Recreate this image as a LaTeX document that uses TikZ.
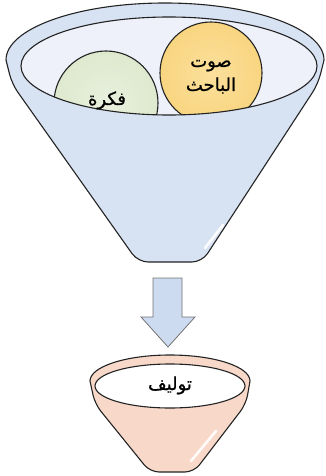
\documentclass[tikz,border=0pt]{standalone}
\usepackage{fontspec}
\newfontfamily\arabicfont[Script=Arabic, FakeBold=0.8]{DejaVu Sans}
\TeXXeTstate=1
\definecolor{outline}{RGB}{35,35,35}
\definecolor{blueBody}{RGB}{215,226,242}
\definecolor{blueInner}{RGB}{238,241,250}
\definecolor{greenBall}{RGB}{222,233,206}
\definecolor{greenLight}{RGB}{232,240,222}
\definecolor{yellowBall}{RGB}{248,213,128}
\definecolor{yellowLight}{RGB}{251,224,156}
\definecolor{peachBody}{RGB}{247,216,201}
\definecolor{arrowBlue}{RGB}{204,219,240}
\definecolor{arrowEdge}{RGB}{115,115,115}
\tikzset{
  funnelline/.style={draw=outline, line width=1.1pt},
  ballshape/.style={draw=outline, line width=1.1pt},
  label/.style={font=\arabicfont\fontsize{18}{22}\selectfont, text=black, inner sep=0pt, anchor=base},
  gloss/.style={draw=white, line width=2.6pt, line cap=round, opacity=0.9},
}
\begin{document}
\begin{tikzpicture}[x=1pt, y=-1pt]
\useasboundingbox (0,0) rectangle (326,476);

% ---- upper funnel: body with the rim lip and the rounded tip
\path[funnelline, fill=blueBody]
  (6,60) arc[start angle=180, end angle=360, x radius=159, y radius=57]
  [rounded corners=10] -- (318,84) -- (202,262) -- (138,262) -- (12,84) [sharp corners] -- cycle;
\draw[gloss] (205,248) -- (223,225);

% opening of the upper funnel
\coordinate (topmouth) at (169,66);
\fill[blueInner] (topmouth) ellipse[x radius=148, y radius=49];

% the two balls resting in the opening
\begin{scope}
  \clip (topmouth) ellipse[x radius=148, y radius=49];
  \path[ballshape, inner color=greenLight, outer color=greenBall] (106,103) circle[radius=52];
  \path[ballshape, inner color=yellowLight, outer color=yellowBall] (211,73) circle[radius=51];
\end{scope}
\draw[funnelline] (topmouth) ellipse[x radius=148, y radius=49];

\node[label] (idea) at (107,105) {\beginR فكرة\endR};
\node[label] (voice) at (211,67) {\beginR صوت\endR};
\node[label] (researcher) at (211,91) {\beginR الباحث\endR};

% ---- arrow between the funnels
\path[draw=arrowEdge, line width=0.8pt, left color=arrowBlue, middle color=white, right color=arrowBlue]
  (153,278) -- (182,278) -- (182,317) -- (195,317) -- (168,347) -- (141,317) -- (153,317) -- cycle;

% ---- lower funnel
\path[funnelline, fill=peachBody]
  (90,381) arc[start angle=180, end angle=360, x radius=80, y radius=26]
  [rounded corners=9] -- (246,404) -- (194,472) -- (150,472) -- (95,404) [sharp corners] -- cycle;
\draw[gloss] (191,461) -- (216,431);

\coordinate (lowmouth) at (170,386);
\fill[white] (lowmouth) ellipse[x radius=75, y radius=22];
\draw[funnelline] (lowmouth) ellipse[x radius=75, y radius=22];

\node[label] (synthesis) at (170,390) {\beginR توليف\endR};
\end{tikzpicture}
\end{document}
